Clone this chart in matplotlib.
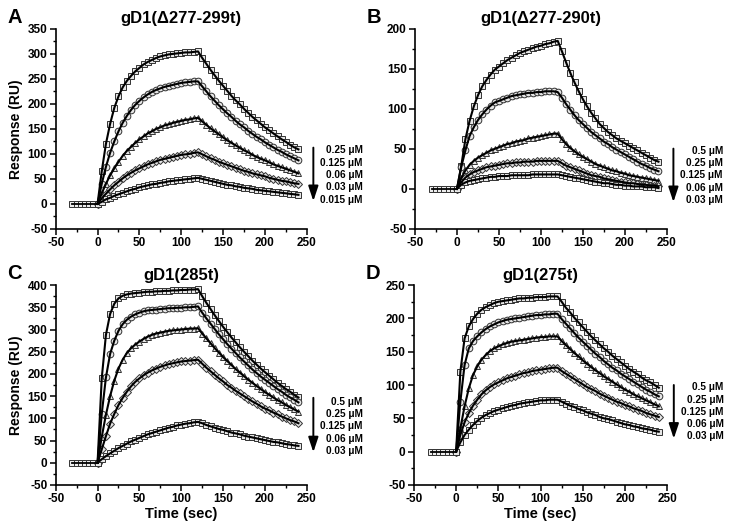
import matplotlib
matplotlib.use("Agg")
import matplotlib.pyplot as plt
from matplotlib.ticker import MultipleLocator

plt.rcParams['font.family'] = ['Liberation Sans', 'DejaVu Sans']
plt.rcParams['font.weight'] = 'bold'
plt.rcParams['axes.unicode_minus'] = False

# baseline before injection (sec, RU)
pre_t = [-30, -25, -20, -15, -10, -5]
pre_y = [0, 0, 0, 0, 0, 0]

# time after injection (sec)
t = list(range(0, 245, 5))

# A: gD1(d277-299t)
a_025 = [0, 65, 120, 160, 192, 215, 233, 246, 256, 265, 272, 279, 284, 288, 292, 295, 297, 299, 300, 301, 302, 303, 303, 304, 305,
         292, 280, 268, 257, 246, 236, 226, 216, 207, 199, 190, 182, 174, 167, 160, 153, 147, 141, 135, 129, 124, 118, 113, 109]
a_0125 = [0, 40, 74, 102, 125, 145, 162, 176, 188, 198, 206, 213, 219, 224, 228, 231, 234, 236, 238, 240, 242, 243, 244, 245, 245,
          235, 225, 215, 206, 197, 189, 181, 174, 166, 159, 153, 146, 140, 134, 129, 123, 118, 113, 108, 104, 99, 95, 91, 87]
a_006 = [0, 21, 40, 57, 71, 84, 96, 106, 114, 122, 129, 135, 141, 145, 150, 153, 157, 159, 162, 164, 166, 168, 169, 171, 172,
         165, 158, 151, 145, 139, 133, 127, 122, 117, 112, 107, 103, 98, 94, 90, 87, 83, 79, 76, 73, 70, 67, 64, 61]
a_003 = [0, 11, 20, 29, 37, 44, 51, 57, 62, 67, 71, 75, 79, 82, 85, 88, 90, 92, 94, 96, 98, 99, 100, 102, 103,
         99, 95, 91, 88, 84, 81, 78, 75, 72, 69, 66, 64, 61, 59, 57, 55, 52, 50, 48, 46, 45, 43, 41, 40]
a_0015 = [0, 4, 9, 12, 16, 19, 22, 25, 28, 30, 33, 35, 37, 39, 40, 42, 43, 45, 46, 47, 48, 49, 50, 51, 52,
          50, 48, 46, 44, 42, 40, 38, 37, 35, 34, 32, 31, 30, 28, 27, 26, 25, 24, 23, 22, 21, 20, 19, 18]

# B: gD1(d277-290t)
b_05 = [0, 28, 62, 85, 103, 117, 128, 136, 143, 149, 153, 157, 161, 164, 167, 170, 172, 174, 176, 178, 179, 181, 182, 184, 185,
        172, 158, 145, 133, 122, 112, 103, 95, 88, 81, 76, 71, 67, 63, 60, 57, 54, 51, 48, 45, 42, 39, 36, 34]
b_025 = [0, 27, 48, 66, 77, 86, 93, 99, 104, 108, 110, 112, 114, 116, 117, 118, 119, 120, 120, 121, 121, 122, 122, 122, 121,
         114, 106, 99, 92, 86, 81, 76, 71, 67, 63, 59, 56, 52, 49, 46, 43, 40, 37, 34, 31, 29, 26, 24, 22]
b_0125 = [0, 13, 23, 30, 35, 39, 42, 45, 48, 50, 52, 54, 56, 57, 59, 60, 61, 63, 64, 65, 66, 67, 68, 69, 69,
          62, 56, 51, 47, 43, 40, 37, 34, 31, 29, 27, 25, 23, 22, 20, 19, 17, 16, 15, 14, 13, 12, 11, 10]
b_006 = [0, 8, 14, 18, 21, 23, 25, 27, 28, 29, 30, 31, 32, 32, 33, 33, 34, 34, 34, 35, 35, 35, 35, 35, 35,
         32, 29, 27, 25, 23, 21, 19, 17, 16, 15, 13, 12, 11, 10, 9, 8, 7, 7, 6, 5, 5, 4, 4, 3]
b_003 = [0, 5, 8, 10, 11, 12, 13, 14, 15, 15, 16, 16, 16, 17, 17, 17, 17, 17, 18, 18, 18, 18, 18, 18, 18,
         17, 16, 15, 14, 13, 12, 11, 10, 9, 8, 7, 7, 6, 5, 5, 4, 4, 3, 3, 3, 2, 2, 2, 1]

# C: gD1(285t)
c_05 = [0, 190, 288, 335, 358, 370, 376, 379, 381, 382, 383, 384, 385, 385, 386, 386, 387, 387, 388, 388, 389, 389, 390, 390, 391,
        375, 360, 346, 332, 319, 306, 294, 282, 271, 260, 250, 240, 230, 221, 212, 204, 196, 188, 180, 173, 166, 160, 153, 147]
c_025 = [0, 110, 192, 245, 275, 297, 312, 322, 329, 334, 338, 341, 343, 344, 345, 346, 347, 348, 348, 349, 349, 350, 350, 351, 352,
         338, 325, 313, 301, 289, 278, 267, 257, 247, 237, 228, 219, 210, 202, 194, 187, 180, 173, 166, 160, 153, 147, 142, 136]
c_0125 = [0, 58, 108, 150, 185, 212, 232, 247, 258, 266, 273, 279, 284, 288, 291, 293, 295, 297, 298, 299, 300, 301, 302, 302, 303,
          291, 280, 269, 258, 248, 238, 229, 220, 211, 203, 195, 187, 180, 173, 166, 159, 153, 147, 141, 136, 130, 125, 120, 115]
c_006 = [0, 30, 60, 88, 110, 130, 146, 160, 172, 182, 190, 197, 203, 208, 212, 216, 219, 222, 224, 226, 228, 229, 230, 231, 232,
         223, 214, 206, 198, 190, 183, 175, 169, 162, 156, 150, 144, 138, 133, 127, 122, 118, 113, 109, 104, 100, 96, 93, 89]
c_003 = [0, 8, 15, 21, 27, 33, 38, 43, 48, 52, 56, 60, 64, 67, 70, 73, 76, 79, 81, 84, 86, 88, 89, 91, 92,
         89, 85, 82, 79, 76, 74, 71, 68, 66, 64, 61, 59, 57, 55, 53, 51, 49, 47, 46, 44, 42, 41, 39, 38]

# D: gD1(275t)
d_05 = [0, 120, 170, 188, 199, 207, 213, 217, 220, 223, 225, 226, 227, 228, 229, 230, 230, 231, 231, 232, 232, 232, 233, 233, 233,
        225, 216, 209, 201, 194, 187, 180, 173, 167, 161, 155, 150, 144, 139, 134, 129, 124, 120, 116, 111, 107, 104, 100, 96]
d_025 = [0, 75, 130, 155, 166, 173, 179, 184, 188, 191, 194, 196, 198, 199, 200, 201, 202, 203, 204, 205, 205, 206, 206, 207, 207,
         199, 192, 185, 178, 171, 165, 159, 153, 147, 142, 136, 131, 126, 122, 117, 113, 109, 105, 101, 97, 93, 90, 86, 83]
d_0125 = [0, 35, 68, 95, 115, 128, 138, 145, 151, 155, 158, 161, 163, 165, 166, 167, 168, 169, 170, 171, 172, 172, 173, 173, 173,
          166, 160, 154, 148, 143, 137, 132, 127, 122, 118, 113, 109, 105, 101, 97, 93, 90, 86, 83, 80, 77, 74, 71, 68]
d_006 = [0, 25, 44, 58, 69, 78, 86, 92, 97, 101, 104, 107, 110, 112, 114, 116, 118, 119, 121, 122, 123, 124, 125, 126, 126,
         121, 117, 113, 109, 105, 101, 97, 94, 91, 87, 84, 81, 78, 75, 73, 70, 68, 65, 63, 61, 58, 56, 54, 52]
d_003 = [0, 14, 25, 33, 40, 46, 51, 55, 58, 61, 63, 65, 67, 69, 70, 72, 73, 74, 75, 76, 77, 77, 78, 78, 78,
         75, 72, 69, 67, 64, 62, 59, 57, 55, 52, 50, 49, 47, 45, 43, 41, 40, 38, 37, 35, 34, 33, 31, 30]

conc_a = ["0.25 \u03bcM", "0.125 \u03bcM", "0.06 \u03bcM", "0.03 \u03bcM", "0.015 \u03bcM"]
conc_b = ["0.5 \u03bcM", "0.25 \u03bcM", "0.125 \u03bcM", "0.06 \u03bcM", "0.03 \u03bcM"]

panels = [
    ("A", "gD1(\u0394277-299t)", [a_025, a_0125, a_006, a_003, a_0015], conc_a, 350,
     [0.0763, 0.565, 0.344, 0.380], 0.392, 0.42, 0.125),
    ("B", "gD1(\u0394277-290t)", [b_05, b_025, b_0125, b_006, b_003], conc_b, 200,
     [0.5685, 0.565, 0.345, 0.380], 0.39, 0.415, 0.12),
    ("C", "gD1(285t)", [c_05, c_025, c_0125, c_006, c_003], conc_b, 400,
     [0.0763, 0.078, 0.344, 0.380], 0.4165, 0.45, 0.15),
    ("D", "gD1(275t)", [d_05, d_025, d_0125, d_006, d_003], conc_b, 250,
     [0.567, 0.078, 0.347, 0.380], 0.489, 0.514, 0.218),
]

markers = ["s", "o", "^", "D", "s"]
msizes = [4.8, 4.8, 4.8, 3.8, 4.8]

fig = plt.figure(figsize=(7.3, 5.26), dpi=100)

for i, (letter, title, series, conc, ytop, pos, text_y, arr_top, arr_bot) in enumerate(panels):
    ax = fig.add_axes(pos)
    ax.plot(pre_t + [0], pre_y + [0], color="black", lw=1.3, zorder=3)
    ax.plot(pre_t, pre_y, ls="none", marker="s", ms=4.8, mfc="0.93", mec="0.2", mew=0.7, zorder=2)
    for y, m, ms in zip(series, markers, msizes):
        ax.plot(t, y, ls="none", marker=m, ms=ms, mfc="0.9", mec="0.2", mew=0.7, zorder=2)
        ax.plot(t, y, color="black", lw=1.5, zorder=3)

    ax.set_xlim(-50, 250)
    ax.set_ylim(-50, ytop)
    ax.xaxis.set_major_locator(MultipleLocator(50))
    ax.xaxis.set_minor_locator(MultipleLocator(25))
    ax.yaxis.set_major_locator(MultipleLocator(50))
    ax.yaxis.set_minor_locator(MultipleLocator(25))
    ax.spines["top"].set_visible(False)
    ax.spines["right"].set_visible(False)
    ax.spines["left"].set_linewidth(1.2)
    ax.spines["bottom"].set_linewidth(1.2)
    ax.tick_params(which="major", direction="out", length=4, width=1.1, labelsize=8.5, pad=2)
    ax.tick_params(which="minor", direction="out", length=2.5, width=1.0)
    for lab in ax.get_xticklabels() + ax.get_yticklabels():
        lab.set_fontweight("bold")

    ax.set_title(title, fontsize=12, fontweight="bold", pad=4)
    if i in (0, 2):
        ax.set_ylabel("Response (RU)", fontsize=10, fontweight="bold", labelpad=3)
    if i in (2, 3):
        ax.set_xlabel("Time (sec)", fontsize=10.5, fontweight="bold", labelpad=1)

    # concentration labels with arrow
    for k, lab in enumerate(conc):
        ax.text(1.222, text_y - k * 0.0615, lab, transform=ax.transAxes, ha="right", va="center",
                fontsize=7.2, fontweight="bold", clip_on=False)
    ax.annotate("", xy=(1.026, arr_bot), xytext=(1.026, arr_top), xycoords="axes fraction",
                arrowprops=dict(arrowstyle="-|>,head_length=0.9,head_width=0.3", color="black", lw=1.4))

    fig.text(pos[0] - 0.056, pos[1] + pos[3] + 0.022, letter, fontsize=14.5, fontweight="bold",
             ha="center", va="center")

fig.savefig("out.png", dpi=100)
